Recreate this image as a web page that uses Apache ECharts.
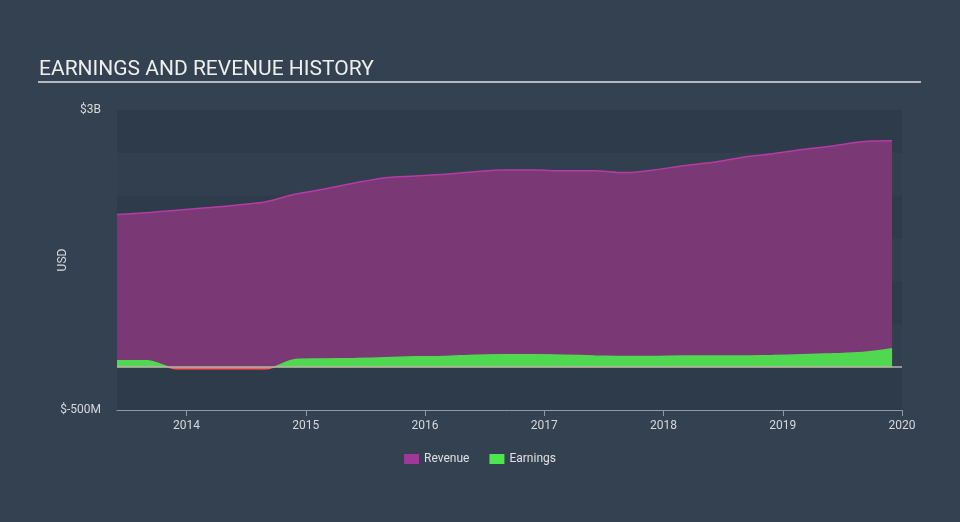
<!DOCTYPE html>
<html>
<head>
<meta charset="utf-8">
<script src="https://cdn.jsdelivr.net/npm/echarts@6/dist/echarts.min.js"></script>
<style>
html,body{margin:0;padding:0;background:#334150;}
#chart{width:960px;height:522px;}
</style>
</head>
<body>
<div id="chart"></div>
<script>
// Fiscal quarter-end dates (year-month)
const periods = ['2013-05','2013-08','2013-11','2014-02','2014-05','2014-08','2014-11','2015-02','2015-05','2015-08','2015-11','2016-02','2016-05','2016-08','2016-11','2017-02','2017-05','2017-08','2017-11','2018-02','2018-05','2018-08','2018-11','2019-02','2019-05','2019-08','2019-11'];
// Values in USD billions
const revenue = [1.78,1.80,1.83,1.86,1.89,1.93,2.02,2.08,2.15,2.21,2.23,2.25,2.28,2.30,2.30,2.29,2.29,2.27,2.30,2.35,2.39,2.45,2.49,2.54,2.58,2.63,2.64];
const earnings = [0.075,0.075,-0.02,-0.02,-0.02,-0.02,0.09,0.095,0.10,0.11,0.12,0.125,0.14,0.145,0.145,0.14,0.13,0.125,0.125,0.13,0.13,0.13,0.135,0.145,0.155,0.17,0.215];
const yearTicks = [2014,2015,2016,2017,2018,2019,2020];
const yMin = -0.5, yMax = 3;

function toYear(p){ const [y,m] = p.split('-').map(Number); return y + m/12; }
const xs = periods.map(toYear);
const revData = xs.map((x,i)=>[x, revenue[i]*1e9]);
const earnData = xs.map((x,i)=>[x, earnings[i]*1e9]);

const chart = echarts.init(document.getElementById('chart'));
chart.setOption({
  backgroundColor: '#334150',
  animation: false,
  textStyle: { fontFamily: 'Roboto, sans-serif' },
  title: {
    text: 'EARNINGS AND REVENUE HISTORY',
    left: 34, top: 54,
    textStyle: { color: '#eeeeee', fontSize: 21, fontWeight: 'normal', fontFamily: 'Roboto' }
  },
  graphic: [{
    type: 'line', shape: { x1: 38, y1: 82, x2: 921, y2: 82 },
    style: { stroke: '#b4b9bf', lineWidth: 2 }, silent: true
  }],
  grid: { left: 117, right: 58, top: 110, bottom: 112 },
  legend: {
    bottom: 52, left: 'center',
    itemWidth: 15, itemHeight: 10, itemGap: 20,
    icon: 'rect',
    textStyle: { color: '#e0e0e0', fontSize: 12 },
    data: ['Revenue','Earnings']
  },
  visualMap: {
    show: false, type: 'piecewise', seriesIndex: 1, dimension: 1,
    pieces: [{ min: -1e10, max: 0, color: '#ff5a5a' }, { min: 0, max: 1e10, color: '#50d850' }]
  },
  xAxis: {
    type: 'value',
    min: xs[0], max: 2020,
    axisLine: { show: true, onZero: false, lineStyle: { color: '#8e9aa6', width: 1 } },
    axisTick: { show: true, length: 6, lineStyle: { color: '#8e9aa6' }, customValues: yearTicks },
    axisLabel: { color: '#d6d9dc', fontSize: 12, margin: 10, customValues: yearTicks, formatter: v => String(Math.round(v)) },
    splitLine: { show: false }
  },
  yAxis: {
    type: 'value',
    min: yMin*1e9, max: yMax*1e9, interval: 0.5e9,
    name: 'USD', nameLocation: 'middle', nameRotate: 90, nameGap: 48, nameMoveOverlap: false,
    nameTextStyle: { color: '#d6d9dc', fontSize: 12 },
    axisLine: { show: false }, axisTick: { show: false },
    axisLabel: {
      color: '#d6d9dc', fontSize: 12, margin: 16,
      formatter: v => v === yMax*1e9 ? '$3B' : (v === yMin*1e9 ? '$-500M' : '')
    },
    splitLine: { show: false },
    splitArea: { show: true, areaStyle: { color: ['rgba(25,35,48,0.18)', 'rgba(25,35,48,0.04)'] } }
  },
  series: [{
    name: 'Revenue', type: 'line', data: revData, smooth: 0.3, symbol: 'none',
    itemStyle: { color: '#a0379a' },
    lineStyle: { color: '#b43ca4', width: 1.5 },
    areaStyle: { color: '#7a3975', opacity: 1 },
    z: 2,
    markLine: {
      silent: true, symbol: 'none', label: { show: false },
      lineStyle: { color: '#b8b4aa', width: 1.5, type: 'solid' },
      data: [{ yAxis: 0 }]
    }
  }, {
    name: 'Earnings', type: 'line', data: earnData, smooth: 0.3, symbol: 'none',
    itemStyle: { color: '#4ee64e' },
    lineStyle: { width: 1.5 },
    areaStyle: { opacity: 1 },
    z: 3
  }]
});
</script>
</body>
</html>
